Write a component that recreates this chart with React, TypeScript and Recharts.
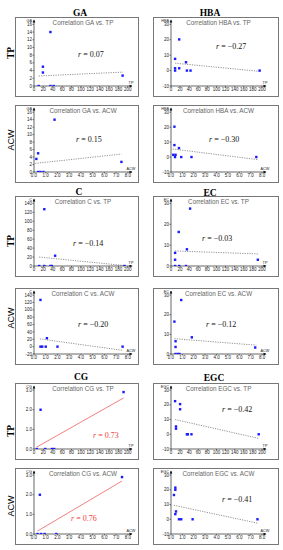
import React from 'react';
import { ScatterChart, Scatter, XAxis, YAxis, ReferenceLine, ReferenceDot } from 'recharts';

// ---- tick labels ----
const tpTicks = [0, 20, 40, 60, 80, 100, 120, 140, 160, 180, 200];
const acwTicks = [0, 1, 2, 3, 4, 5, 6, 7, 8];
const gaTicks = [0, 2, 4, 6, 8, 10, 12, 14, 16];
const hbaTicks = [-10, 0, 10, 20, 30];
const cTpTicks = [0, 20, 40, 60, 80, 100, 120, 140];
const cAcwTicks = [-20, 0, 20, 40, 60, 80, 100, 120, 140];
const ecTicks = [0, 10, 20, 30];
const cgTicks = [0, 1, 2, 3];
const egcTicks = [-10, 0, 10, 20, 30];

// ---- scatter values (x = TP or ACW, y = marker) ----
const gaTp = [{ x: 10, y: 0 }, { x: 19, y: 5 }, { x: 19, y: 3.5 }, { x: 35, y: 14 }, { x: 35, y: 0 }, { x: 42, y: 0 }, { x: 189, y: 2.7 }];
const gaTpTrend = [{ x: 10, y: 2.6 }, { x: 190, y: 3.6 }];
const gaAcw = [{ x: 0.2, y: 3.5 }, { x: 0.35, y: 5 }, { x: 0.35, y: 0 }, { x: 0.55, y: 0 }, { x: 0.8, y: 0 }, { x: 1.75, y: 14 }, { x: 7.45, y: 2.7 }];
const gaAcwTrend = [{ x: 0.1, y: 2.3 }, { x: 7.45, y: 4.8 }];
const hbaTp = [{ x: 9, y: 7.6 }, { x: 9, y: 1.5 }, { x: 9, y: 0 }, { x: 18, y: 20.2 }, { x: 18, y: 1.5 }, { x: 33, y: 5.4 }, { x: 35, y: 0 }, { x: 43, y: 0 }, { x: 195, y: 0 }];
const hbaTpTrend = [{ x: 9, y: 4.8 }, { x: 195, y: -0.5 }];
const hbaAcw = [{ x: 0.3, y: 20.3 }, { x: 0.3, y: 8 }, { x: 0.2, y: 1.5 }, { x: 0.35, y: 0 }, { x: 0.4, y: 1.5 }, { x: 0.7, y: 6 }, { x: 0.9, y: 0 }, { x: 1.8, y: 0 }, { x: 7.5, y: 0 }];
const hbaAcwTrend = [{ x: 0.15, y: 5.4 }, { x: 7.6, y: -1.7 }];
const cTp = [{ x: 22, y: 127 }, { x: 45, y: 23 }, { x: 11, y: 0 }, { x: 22, y: 0 }, { x: 35, y: 0 }, { x: 38, y: 0 }, { x: 193, y: 0 }];
const cTpTrend = [{ x: 11, y: 20 }, { x: 193, y: 1 }];
const ecTp = [{ x: 42, y: 27.5 }, { x: 17, y: 16.3 }, { x: 35, y: 8 }, { x: 9, y: 6.3 }, { x: 9, y: 3 }, { x: 9, y: 0 }, { x: 18, y: 0 }, { x: 33, y: 0 }, { x: 191, y: 3 }];
const ecTpTrend = [{ x: 9, y: 7.2 }, { x: 191, y: 5.8 }];
const cAcw = [{ x: 0.55, y: 127 }, { x: 1.1, y: 23 }, { x: 0.55, y: 0 }, { x: 0.7, y: 0 }, { x: 1.0, y: 0 }, { x: 2.0, y: 0 }, { x: 7.55, y: 0 }];
const cAcwTrend = [{ x: 0.5, y: 21 }, { x: 7.55, y: -10 }];
const ecAcw = [{ x: 0.9, y: 27.5 }, { x: 0.3, y: 16.5 }, { x: 1.83, y: 8.5 }, { x: 0.4, y: 6.5 }, { x: 0.4, y: 3.6 }, { x: 0.4, y: 0 }, { x: 0.6, y: 0 }, { x: 0.75, y: 0 }, { x: 7.4, y: 3.3 }];
const ecAcwTrend = [{ x: 0.3, y: 7.8 }, { x: 7.5, y: 4.5 }];
const cgTp = [{ x: 14, y: 2 }, { x: 6, y: 0 }, { x: 24, y: 0 }, { x: 38, y: 0 }, { x: 43, y: 0 }, { x: 191, y: 2.9 }];
const cgTpTrend = [{ x: 6, y: 0.1 }, { x: 191, y: 2.6 }];
const egcTp = [{ x: 9, y: 22.5 }, { x: 20, y: 20.5 }, { x: 20, y: 17 }, { x: 11, y: 5.3 }, { x: 11, y: 3.8 }, { x: 35, y: 0 }, { x: 37, y: 0 }, { x: 45, y: 0 }, { x: 193, y: 0 }];
const egcTpTrend = [{ x: 9, y: 10 }, { x: 193, y: -2.8 }];
const cgAcw = [{ x: 0.5, y: 2 }, { x: 0.3, y: 0 }, { x: 0.6, y: 0 }, { x: 0.9, y: 0 }, { x: 1.9, y: 0 }, { x: 7.5, y: 2.9 }];
const cgAcwTrend = [{ x: 0.3, y: 0.15 }, { x: 7.5, y: 2.7 }];
const egcAcw = [{ x: 0.38, y: 21.5 }, { x: 0.38, y: 20 }, { x: 0.26, y: 16.5 }, { x: 0.44, y: 5.3 }, { x: 0.38, y: 3.5 }, { x: 0.7, y: 0 }, { x: 0.9, y: 0 }, { x: 1.9, y: 0 }, { x: 7.6, y: 0 }];
const egcAcwTrend = [{ x: 0.26, y: 9.5 }, { x: 7.6, y: -2.6 }];

const rValues = ['0.07', '\u22120.27', '0.15', '\u22120.30', '\u22120.14', '\u22120.03', '\u22120.20', '\u22120.12', '0.73', '\u22120.42', '0.76', '\u22120.41'];

const SANS = '"Liberation Sans", Arial, sans-serif';
const SERIF = '"Liberation Serif", "Times New Roman", serif';

type Pt = { x: number; y: number };
type PanelProps = {
  left: number; top: number; width: number; height: number;
  marker: string; xName: string;
  data: Pt[]; trend: Pt[];
  xTicks: number[]; xMax: number; xFmt: (v: number) => string;
  yTicks: number[]; yFmt: (v: number) => string;
  r: string; rx: number; ry: number; red?: boolean; rightCol?: boolean;
};

const square = (p: any) => (
  <rect x={p.cx - 1.2} y={p.cy - 1.2} width={2.4} height={2.4} fill="#1a1aff" />
);

function Panel(props: PanelProps) {
  const { left, top, width, height, marker, xName, data, trend, xTicks, xMax, xFmt, yTicks, yFmt, r, rx, ry, red, rightCol } = props;
  const yMin = yTicks[0];
  const yTop = yTicks[yTicks.length - 1];
  const yMax = yTop + (yTop - yMin) * 0.07;
  const tick = { fontSize: 4.5, fill: '#222', fontFamily: SANS };
  const w = width - 2;
  const h = height - 2;
  return (
    <div style={{ position: 'absolute', left, top, width, height, border: '1px solid #777', boxSizing: 'border-box' }}>
      <ScatterChart width={w} height={h} margin={{ top: 2, right: rightCol ? 12 : 6, bottom: 2, left: 2 }}>
        <XAxis type="number" dataKey="x" domain={[0, xMax]} ticks={xTicks} interval={0} tickFormatter={xFmt}
          tick={tick} tickSize={1.5} tickMargin={0.5} height={8} axisLine={{ stroke: '#000', strokeWidth: 0.6 }}
          tickLine={{ stroke: '#000', strokeWidth: 0.5 }} allowDataOverflow />
        <YAxis type="number" dataKey="y" domain={[yMin, yMax]} ticks={yTicks} interval={0} tickFormatter={yFmt}
          tick={tick} tickSize={1.5} tickMargin={0.5} width={rightCol ? 15 : 16} axisLine={{ stroke: '#000', strokeWidth: 0.6 }}
          tickLine={{ stroke: '#000', strokeWidth: 0.5 }} allowDataOverflow />
        <ReferenceLine segment={[trend[0], trend[1]]} ifOverflow="visible"
          stroke={red ? '#f07070' : '#777'} strokeWidth={red ? 0.9 : 0.8} strokeDasharray={red ? undefined : '1.2 1.2'} />
        <Scatter data={data} shape={square} isAnimationActive={false} />
        <ReferenceDot x={0} y={yMax} r={0} ifOverflow="visible"
          shape={(p: any) => (
            <g>
              <path d={`M${p.cx - 1.3},${p.cy + 2.5} L${p.cx},${p.cy - 0.5} L${p.cx + 1.3},${p.cy + 2.5} Z`} fill="#000" />
              <text x={p.cx - 2} y={p.cy + 1.5} fontSize={3.8} textAnchor="end" fontFamily={SANS} fill="#222">{marker}</text>
            </g>
          )} />
        <ReferenceDot x={xMax} y={yMin} r={0} ifOverflow="visible"
          shape={(p: any) => (
            <g>
              <path d={`M${p.cx - 2.5},${p.cy - 1.3} L${p.cx + 0.5},${p.cy} L${p.cx - 2.5},${p.cy + 1.3} Z`} fill="#000" />
              <text x={p.cx - 1} y={p.cy - 2} fontSize={3.8} textAnchor="middle" fontFamily={SANS} fill="#222">{xName}</text>
            </g>
          )} />
      </ScatterChart>
      <div style={{ position: 'absolute', left: rightCol ? 17 : 18, width: rightCol ? 95 : 98, top: 1, textAlign: 'center', fontFamily: SANS, fontSize: 6.3, color: '#666', lineHeight: '8px', whiteSpace: 'nowrap' }}>
        {`Correlation ${marker} vs. ${xName}`}
      </div>
      <div style={{ position: 'absolute', left: rx, top: ry, fontFamily: SERIF, fontSize: 8, lineHeight: '9px', color: red ? '#f04040' : '#111', whiteSpace: 'nowrap', transform: 'translateY(-50%)' }}>
        <span style={{ fontStyle: 'italic' }}>r</span>{` = ${r}`}
      </div>
    </div>
  );
}

const intFmt = (v: number) => String(v);
const oneFmt = (v: number) => v.toFixed(1);

const L = { left: 15, width: 124 };
const R = { left: 153, width: 126, rightCol: true };
const rows = [
  { top: 17, height: 80 },
  { top: 105, height: 78 },
  { top: 196, height: 81 },
  { top: 288, height: 77 },
  { top: 383, height: 77 },
  { top: 468, height: 77 },
];
const TPX = { xName: 'TP', xTicks: tpTicks, xMax: 209, xFmt: intFmt };
const ACWX = { xName: 'ACW', xTicks: acwTicks, xMax: 8.35, xFmt: oneFmt };

const header = (text: string, x: number, y: number) => (
  <div key={text} style={{ position: 'absolute', left: x, top: y, transform: 'translate(-50%,-50%)', fontFamily: SERIF, fontWeight: 'bold', fontSize: 9.5, whiteSpace: 'nowrap' }}>{text}</div>
);
const rowLabel = (text: string, y: number, serif: boolean) => (
  <div key={text + y} style={{ position: 'absolute', left: 10.5, top: y, transform: 'translate(-50%,-50%) rotate(-90deg)', fontFamily: serif ? SERIF : SANS, fontWeight: serif ? 'bold' : 'normal', fontSize: serif ? 9.5 : 9, whiteSpace: 'nowrap' }}>{text}</div>
);

export default function App() {
  return (
    <div style={{ position: 'absolute', left: 0, top: 0, width: 283, height: 550, background: '#fff', overflow: 'hidden' }}>
      {header('GA', 80, 13)}
      {header('HBA', 210, 13)}
      {header('C', 79, 192)}
      {header('EC', 210, 193)}
      {header('CG', 81, 377)}
      {header('EGC', 214, 378)}
      {rowLabel('TP', 53, true)}
      {rowLabel('ACW', 140, false)}
      {rowLabel('TP', 241, true)}
      {rowLabel('ACW', 318, false)}
      {rowLabel('TP', 431, true)}
      {rowLabel('ACW', 506, false)}

      <Panel {...L} {...rows[0]} {...TPX} marker="GA" data={gaTp} trend={gaTpTrend} yTicks={gaTicks} yFmt={intFmt} r={rValues[0]} rx={62} ry={36} />
      <Panel {...R} {...rows[0]} {...TPX} marker="HBA" data={hbaTp} trend={hbaTpTrend} yTicks={hbaTicks} yFmt={intFmt} r={rValues[1]} rx={62} ry={28} />
      <Panel {...L} {...rows[1]} {...ACWX} marker="GA" data={gaAcw} trend={gaAcwTrend} yTicks={gaTicks} yFmt={intFmt} r={rValues[2]} rx={60} ry={33} />
      <Panel {...R} {...rows[1]} {...ACWX} marker="HBA" data={hbaAcw} trend={hbaAcwTrend} yTicks={hbaTicks} yFmt={intFmt} r={rValues[3]} rx={55} ry={33} />
      <Panel {...L} {...rows[2]} {...TPX} marker="C" data={cTp} trend={cTpTrend} yTicks={cTpTicks} yFmt={intFmt} r={rValues[4]} rx={57} ry={46} />
      <Panel {...R} {...rows[2]} {...TPX} marker="EC" data={ecTp} trend={ecTpTrend} yTicks={ecTicks} yFmt={intFmt} r={rValues[5]} rx={48} ry={41} />
      <Panel {...L} {...rows[3]} {...ACWX} marker="C" data={cAcw} trend={cAcwTrend} yTicks={cAcwTicks} yFmt={intFmt} r={rValues[6]} rx={62} ry={35} />
      <Panel {...R} {...rows[3]} {...ACWX} marker="EC" data={ecAcw} trend={ecAcwTrend} yTicks={ecTicks} yFmt={intFmt} r={rValues[7]} rx={52} ry={35} />
      <Panel {...L} {...rows[4]} {...TPX} marker="CG" data={cgTp} trend={cgTpTrend} yTicks={cgTicks} yFmt={oneFmt} r={rValues[8]} rx={77} ry={51} red />
      <Panel {...R} {...rows[4]} {...TPX} marker="EGC" data={egcTp} trend={egcTpTrend} yTicks={egcTicks} yFmt={intFmt} r={rValues[9]} rx={68} ry={25} />
      <Panel {...L} {...rows[5]} {...ACWX} marker="CG" data={cgAcw} trend={cgAcwTrend} yTicks={cgTicks} yFmt={oneFmt} r={rValues[10]} rx={55} ry={49} red />
      <Panel {...R} {...rows[5]} {...ACWX} marker="EGC" data={egcAcw} trend={egcAcwTrend} yTicks={egcTicks} yFmt={intFmt} r={rValues[11]} rx={68} ry={30} />
    </div>
  );
}
